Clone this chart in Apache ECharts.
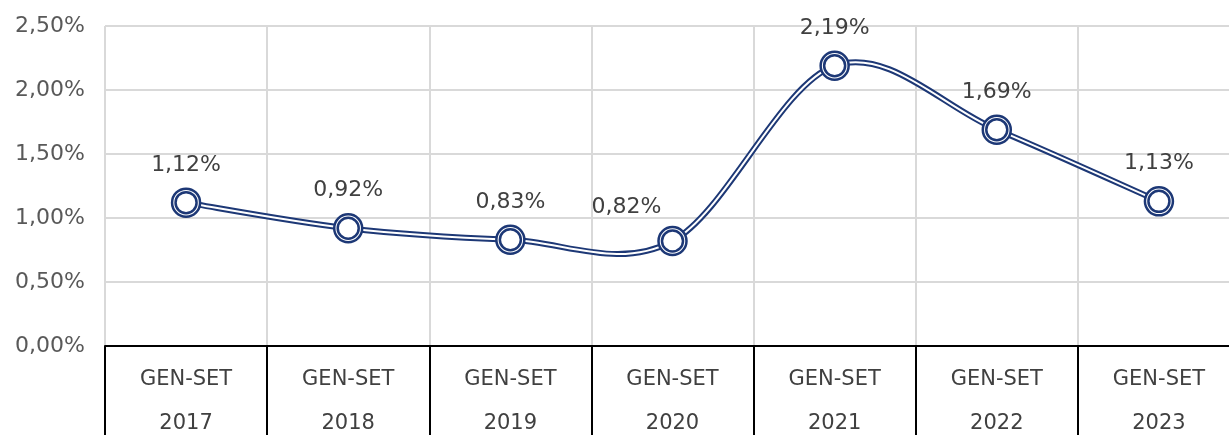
<!DOCTYPE html>
<html>
<head>
<meta charset="utf-8">
<script src="https://cdn.jsdelivr.net/npm/echarts@6/dist/echarts.min.js"></script>
<style>
html,body{margin:0;padding:0;background:#fff;}
#chart{width:1229px;height:435px;}
</style>
</head>
<body>
<div id="chart"></div>
<script>
const categories = ['GEN-SET\n2017','GEN-SET\n2018','GEN-SET\n2019','GEN-SET\n2020','GEN-SET\n2021','GEN-SET\n2022','GEN-SET\n2023'];
const values = [1.12, 0.92, 0.83, 0.82, 2.19, 1.69, 1.13];
const yTicks = { min: 0, max: 2.5, interval: 0.5 };

const NAVY = '#1d3876';
const FONT = '"DejaVu Sans", sans-serif';
const fmt = v => v.toFixed(2).replace('.', ',') + '%';

const labelData = values.map((v, i) => {
  const item = { value: v };
  if (i === 3) item.label = { offset: [-46, 4] };
  return item;
});

// Excel-like smoothed segment between point i and i+1 (Catmull-Rom style), through the axis scales
function renderSegment(params, api) {
  const i = params.dataIndex;
  const n = values.length;
  if (i >= n - 1) return null;
  const P = k => api.coord([Math.max(0, Math.min(n - 1, k)), values[Math.max(0, Math.min(n - 1, k))]]);
  const p0 = P(i - 1), p1 = P(i), p2 = P(i + 1), p3 = P(i + 2);
  const shape = {
    x1: p1[0], y1: p1[1], x2: p2[0], y2: p2[1],
    cpx1: p1[0] + (p2[0] - p0[0]) / 6, cpy1: p1[1] + (p2[1] - p0[1]) / 6,
    cpx2: p2[0] - (p3[0] - p1[0]) / 6, cpy2: p2[1] - (p3[1] - p1[1]) / 6
  };
  return {
    type: 'group',
    children: [
      { type: 'bezierCurve', shape: shape, style: { stroke: NAVY, lineWidth: 6, fill: null } },
      { type: 'bezierCurve', shape: shape, style: { stroke: '#fff', lineWidth: 2, fill: null } }
    ]
  };
}

const chart = echarts.init(document.getElementById('chart'), null, { renderer: 'canvas' });
chart.setOption({
  animation: false,
  backgroundColor: '#fff',
  grid: { left: 105, top: 26, width: 1135, height: 320, containLabel: false, outerBoundsMode: 'none' },
  xAxis: {
    type: 'category',
    data: categories,
    boundaryGap: true,
    axisLine: { show: true, lineStyle: { color: '#000', width: 2 } },
    axisTick: { show: true, length: 90, lineStyle: { color: '#000', width: 2 } },
    splitLine: { show: true, lineStyle: { color: '#d9d9d9', width: 2 } },
    axisLabel: { color: '#404040', fontSize: 21, fontFamily: FONT, lineHeight: 44, margin: 12 }
  },
  yAxis: {
    type: 'value',
    min: yTicks.min, max: yTicks.max, interval: yTicks.interval,
    axisLine: { show: false }, axisTick: { show: false },
    splitLine: { lineStyle: { color: '#d9d9d9', width: 2 } },
    axisLabel: { color: '#595959', fontSize: 22, fontFamily: FONT, margin: 20, padding: [5, 0, 0, 0], formatter: fmt }
  },
  series: [
    { type: 'custom', data: values.map((v, i) => [i, v]), renderItem: renderSegment, z: 2, silent: true },
    { type: 'scatter', data: values, symbol: 'circle', symbolSize: 28,
      itemStyle: { color: '#fff', borderColor: NAVY, borderWidth: 2.5, opacity: 1 }, z: 4 },
    { type: 'scatter', data: labelData, symbol: 'circle', symbolSize: 21,
      itemStyle: { color: '#fff', borderColor: NAVY, borderWidth: 2.5, opacity: 1 }, z: 5,
      label: { show: true, position: 'top', distance: 15, color: '#404040', fontSize: 22, fontFamily: FONT,
        formatter: p => fmt(p.value) } }
  ]
});
</script>
</body>
</html>
